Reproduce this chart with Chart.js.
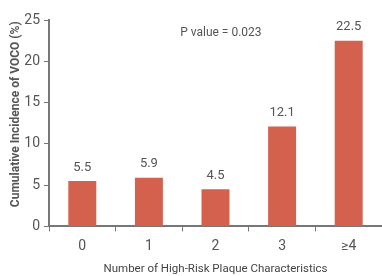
<!DOCTYPE html>
<html>
<head>
<meta charset="utf-8">
<script src="https://cdn.jsdelivr.net/npm/chart.js@4"></script>
<style>
  html, body { margin: 0; padding: 0; background: #fff; }
  #wrap { width: 382px; height: 276px; position: relative; }
</style>
</head>
<body>
<div id="wrap"><canvas id="chart"></canvas></div>
<script>
const categories = ["0", "1", "2", "3", "\u22654"];
const incidence = [5.5, 5.9, 4.5, 12.1, 22.5];
const yTicks = [0, 5, 10, 15, 20, 25];
const pValueText = "P value = 0.023";

const FONT = "Roboto, 'Open Sans', sans-serif";
const GREY = "#555";
const AXIS = "#777";

// value labels above bars + p value note
const labelPlugin = {
  id: "labels",
  afterDatasetsDraw(chart) {
    const ctx = chart.ctx;
    const meta = chart.getDatasetMeta(0);
    ctx.save();
    ctx.fillStyle = GREY;
    ctx.font = "13px " + FONT;
    ctx.textAlign = "center";
    ctx.textBaseline = "bottom";
    meta.data.forEach((bar, i) => {
      ctx.fillText(incidence[i].toFixed(1), bar.x, bar.y - 7);
    });
    const xs = chart.scales.x, ys = chart.scales.y;
    ctx.font = "12px " + FONT;
    ctx.textAlign = "left";
    ctx.textBaseline = "middle";
    ctx.fillText(pValueText, xs.getPixelForValue(1.47), ys.getPixelForValue(23.4));
    ctx.restore();
  },
};

new Chart(document.getElementById("chart"), {
  type: "bar",
  data: {
    labels: categories,
    datasets: [
      {
        data: incidence,
        backgroundColor: "#d4604e",
        borderWidth: 0,
        barPercentage: 0.42,
        categoryPercentage: 1,
      },
    ],
  },
  options: {
    responsive: true,
    maintainAspectRatio: false,
    animation: false,
    layout: { padding: { top: 20, right: 0, left: 6, bottom: 0 } },
    plugins: { legend: { display: false }, tooltip: { enabled: false } },
    scales: {
      x: {
        grid: {
          display: true,
          drawOnChartArea: false,
          drawTicks: true,
          tickLength: 5,
          offset: true,
          color: AXIS,
        },
        border: { display: true, color: AXIS, width: 2 },
        ticks: { color: GREY, font: { family: FONT, size: 14 }, padding: 7 },
        title: {
          display: true,
          text: "Number of High-Risk Plaque Characteristics",
          color: "#444",
          font: { family: FONT, size: 11.5 },
          padding: { top: 0, bottom: 0 },
        },
      },
      y: {
        min: 0,
        max: 25,
        afterBuildTicks: (scale) => {
          scale.ticks = yTicks.map((v) => ({ value: v }));
        },
        afterFit: (scale) => {
          scale.width = 43;
        },
        grid: {
          display: true,
          drawOnChartArea: false,
          drawTicks: true,
          tickLength: 5,
          color: AXIS,
        },
        border: { display: true, color: AXIS, width: 2 },
        ticks: { color: GREY, font: { family: FONT, size: 14 }, padding: 4 },
        title: {
          display: true,
          text: "      Cumulative Incidence of VOCO (%)",
          color: "#555",
          font: { family: FONT, size: 12, weight: "bold" },
          padding: { top: 3, bottom: 0 },
        },
      },
    },
  },
  plugins: [labelPlugin],
});
</script>
</body>
</html>
